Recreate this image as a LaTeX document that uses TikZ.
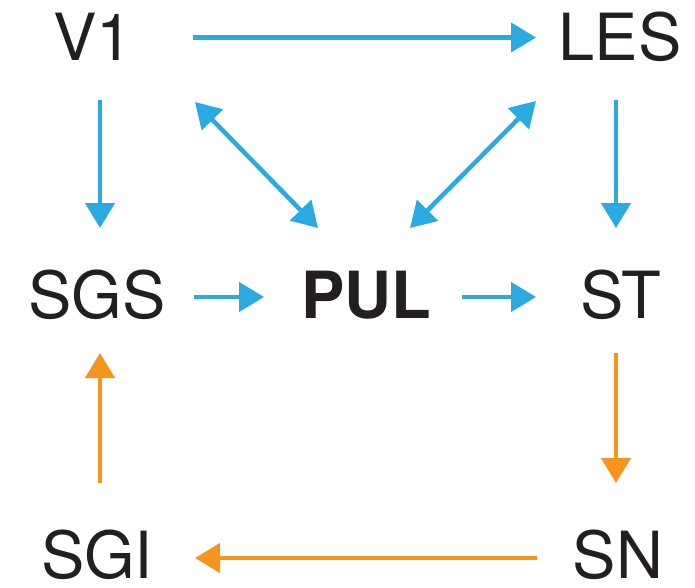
\documentclass[tikz,border=0pt]{standalone}
\usepackage{fontspec}
\setmainfont{TeX Gyre Heros}
\usepackage{tikz}
\usetikzlibrary{arrows.meta, positioning}
\usepackage{xcolor}
\definecolor{blueC}{HTML}{29ABE2}
\definecolor{orangeC}{HTML}{F7941D}
\definecolor{inkC}{HTML}{231F20}
\tikzset{
  base/.style={inner sep=0pt, text height=47pt, text depth=0pt, anchor=base, text=inkC, font=\fontsize{65}{70}\selectfont},
  arw/.style={-{Triangle[length=25pt, width=29pt]}, line width=4.5pt},
  arwB/.style={arw, draw=blueC},
  arwO/.style={arw, draw=orangeC},
  dblB/.style={{Triangle[length=25pt, width=29pt]}-{Triangle[length=25pt, width=29pt]}, line width=4.5pt, draw=blueC}
}
\begin{document}
\begin{tikzpicture}[x=1pt, y=-1pt]
  \useasboundingbox (0,0) rectangle (695,588);

  % ── Areas ──
  \node[base] (v1) at (93,61) {V1};
  \node[base] (les) at (620,61) {LES};
  \node[base] (sgs) at (97,318) {SGS};
  \node[base, font=\fontsize{65}{70}\selectfont\bfseries] (pul) at (366,318) {PUL};
  \node[base] (st) at (621,318) {ST};
  \node[base] (sgi) at (97,578) {SGI};
  \node[base] (sn) at (618,578) {SN};

  % ── Blue pathway ──
  \draw[arwB] ([xshift=100pt]v1.center) -- ([xshift=-84pt]les.center);
  \draw[arwB] ([xshift=7pt, yshift=-62.5pt]v1.center) -- ([xshift=3pt, yshift=66.5pt]sgs.center);
  \draw[arwB] ([xshift=-4pt, yshift=-62.5pt]les.center) -- ([xshift=-5pt, yshift=66.5pt]st.center);
  \draw[dblB] ([xshift=102pt, yshift=-64.5pt]v1.center) -- ([xshift=-48pt, yshift=66.5pt]pul.center);
  \draw[dblB] ([xshift=-84pt, yshift=-63.5pt]les.center) -- ([xshift=44pt, yshift=66.5pt]pul.center);
  \draw[arwB] ([xshift=97pt, yshift=-2.5pt]sgs.center) -- ([xshift=-102pt, yshift=-2.5pt]pul.center);
  \draw[arwB] ([xshift=96pt, yshift=-2.5pt]pul.center) -- ([xshift=-85pt, yshift=-2.5pt]st.center);

  % ── Orange loop ──
  \draw[arwO] ([xshift=-5pt, yshift=-58.5pt]st.center) -- ([xshift=-2pt, yshift=71.5pt]sn.center);
  \draw[arwO] ([xshift=-81pt, yshift=-3.5pt]sn.center) -- ([xshift=98pt, yshift=-3.5pt]sgi.center);
  \draw[arwO] ([xshift=3pt, yshift=71.5pt]sgi.center) -- ([xshift=3pt, yshift=-58.5pt]sgs.center);
\end{tikzpicture}
\end{document}
